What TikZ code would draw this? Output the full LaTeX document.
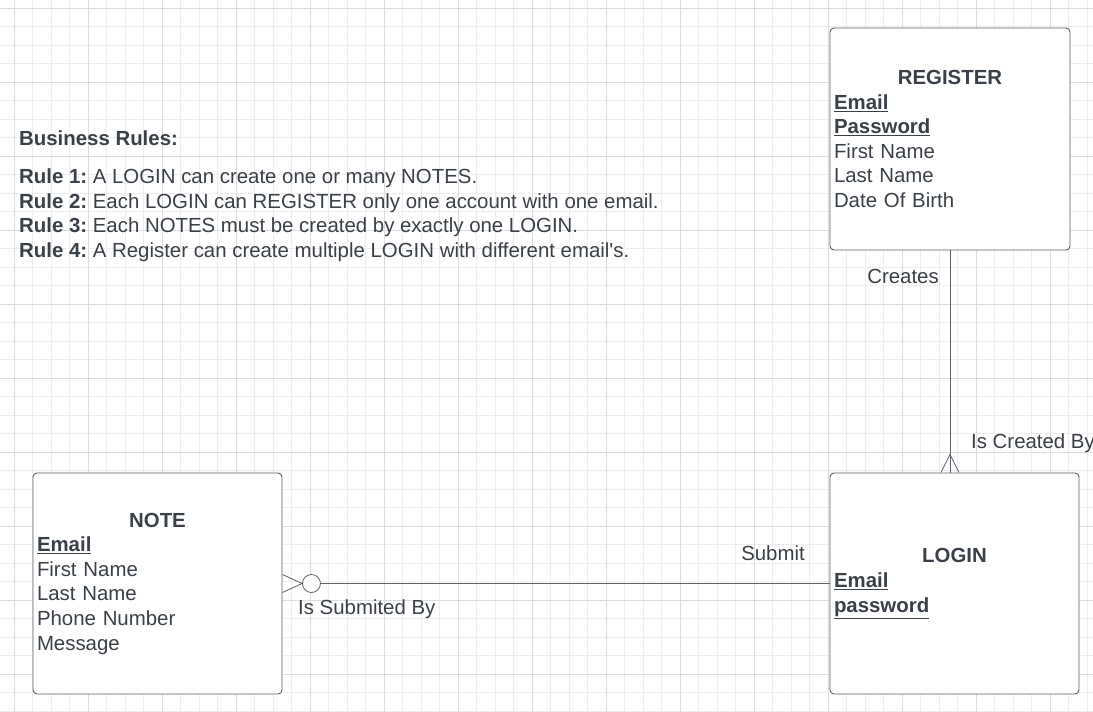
\documentclass[tikz,border=0pt]{standalone}
\usepackage{fontspec}
\setmainfont{Liberation Sans}
\usetikzlibrary{positioning, calc}
\definecolor{ink}{HTML}{3A4048}
\definecolor{boxline}{HTML}{5A5F68}
\definecolor{minorgrid}{HTML}{EDEDED}
\definecolor{majorgrid}{HTML}{DCDCDC}
\frenchspacing

\begin{document}
\begin{tikzpicture}[
    x=1pt, y=-1pt,
    entity/.style={rectangle, draw=boxline, line width=0.9pt, fill=white, rounded corners=4pt, align=left, inner xsep=4pt, inner ysep=0pt, text width=241pt, minimum height=221pt, font=\fontsize{20.4}{24.6}\selectfont, text=ink},
    rel/.style={font=\fontsize{20.4}{24}\selectfont, text=ink, inner sep=0pt},
    link/.style={draw=boxline, line width=0.8pt},
    ring/.style={circle, draw=boxline, line width=0.8pt, fill=white, minimum size=18pt, inner sep=0pt},
]
    \clip (0,0) rectangle (1093,712);
    \fill[white] (0,0) rectangle (1093,712);

    % background grid
    \foreach \k in {-1,...,58} \draw[minorgrid, line width=0.7pt] ({14+18.5*\k},0) -- ++(0,712);
    \foreach \k in {0,...,38} \draw[minorgrid, line width=0.7pt] (0,{8+18.5*\k}) -- ++(1093,0);
    \foreach \k in {0,...,14} \draw[majorgrid, line width=0.8pt] ({14+74*\k},0) -- ++(0,712);
    \foreach \k in {0,...,9} \draw[majorgrid, line width=0.8pt] (0,{8+74*\k}) -- ++(1093,0);

    % business rules
    \node[rel, align=left, anchor=north west, font=\fontsize{20.4}{24.6}\selectfont] (rules) at (19,131)
        {\textbf{Business Rules:}\\[13pt]
         \textbf{Rule 1:} A LOGIN can create one or many NOTES.\\
         \textbf{Rule 2:} Each LOGIN can REGISTER only one account with one email.\\
         \textbf{Rule 3:} Each NOTES must be created by exactly one LOGIN.\\
         \textbf{Rule 4:} A Register can create multiple LOGIN with different email\textquotesingle s.};

    % entities
    \node[entity, text width=232pt, minimum height=222pt] (register) at (950,139)
        {\makebox[\hsize]{\textbf{REGISTER}}\\
         \textbf{\underline{Email}}\\
         \textbf{\underline{Password}}\\
         First Name\\
         Last Name\\
         Date Of Birth};
    \node[entity] (login) at (954.5,583.5)
        {\makebox[\hsize]{\textbf{LOGIN}}\\
         \textbf{\underline{Email}}\\
         \textbf{\underline{password}}};
    \node[entity] (note) at (157.5,583.5)
        {\makebox[\hsize]{\textbf{NOTE}}\\
         \textbf{\underline{Email}}\\
         First Name\\
         Last Name\\
         Phone Number\\
         Message};

    % register -- login
    \coordinate (regfoot) at (register.south |- login.north);
    \draw[link] (register.south) -- (regfoot);
    \draw[link] ($(regfoot)+(-9,0)$) -- ($(regfoot)+(0,-18)$) -- ($(regfoot)+(9,0)$);

    % note -- login
    \node[ring] (ring) at ($(note.east)+(29,0)$) {};
    \draw[link] (ring) -- (login.west);
    \draw[link] ($(note.east)+(0,-9)$) -- (ring.west) -- ($(note.east)+(0,9)$);

    \node[rel] (creates) at (903,276) {Creates};
    \node[rel, anchor=west] (createdby) at (971,443) {Is Created By};
    \node[rel] (submit) at (773,553) {Submit};
    \node[rel, anchor=west] (submitedby) at (298,609) {Is Submited By};
\end{tikzpicture}
\end{document}
